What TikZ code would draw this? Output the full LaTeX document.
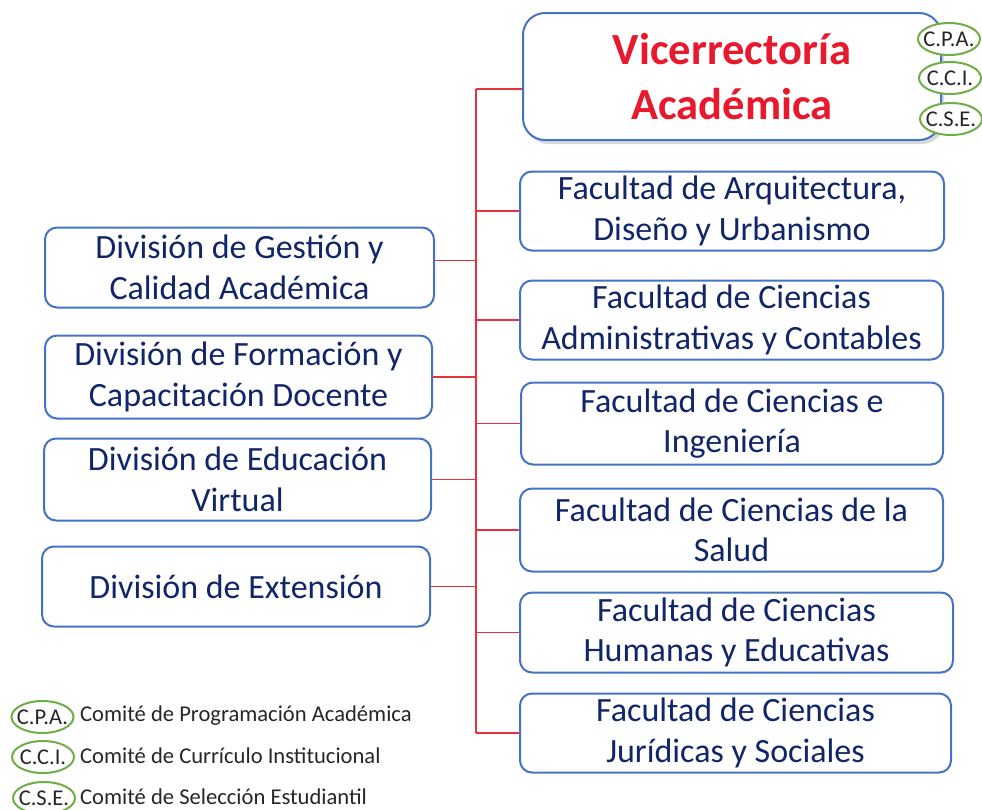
\documentclass[tikz,border=0pt]{standalone}
\usepackage{fontspec}
\setmainfont{Carlito}
\usetikzlibrary{shapes.geometric,shadows}
\definecolor{boxblue}{HTML}{4472C4}
\definecolor{navy}{HTML}{102668}
\definecolor{linered}{HTML}{E8303F}
\definecolor{titlered}{HTML}{E8192C}
\definecolor{cgreen}{HTML}{70AD47}
\definecolor{legtext}{HTML}{262626}
\begin{document}
\begin{tikzpicture}[x=1pt,y=-1pt,
  box/.style={draw=boxblue, line width=2pt, rounded corners=12pt, align=center,
    text=navy, font=\fontsize{34}{40.5}\selectfont, inner sep=0pt, fill=white,
    yshift=-1.5pt},
  titlebox/.style={draw=boxblue, line width=2pt, rounded corners=22pt, align=center,
    text=titlered, font=\fontsize{44.5}{55}\selectfont\bfseries, inner sep=0pt, fill=white,
    minimum width=418pt, minimum height=127pt,
    drop shadow={shadow xshift=3pt, shadow yshift=-4pt, opacity=0.25, fill=black!60}},
  cmt/.style={ellipse, draw=cgreen, line width=2pt, fill=white, minimum width=62pt,
    minimum height=32pt, inner sep=0pt, text=legtext, font=\fontsize{22.5}{26}\selectfont},
  legend/.style={anchor=west, inner sep=0pt, text=legtext, font=\fontsize{22.6}{26}\selectfont},
  conn/.style={draw=linered, line width=1.3pt}
]
\useasboundingbox (0,0) rectangle (982,809);

% title box
\node[titlebox] (va) at (732,76.5) {Vicerrector\'ia\\Acad\'emica};
\node[cmt] (cpa) at (949,39) {\makebox[0pt]{C.P.A.}};
\node[cmt] (cci) at (950,78) {\makebox[0pt]{C.C.I.}};
\node[cmt] (cse) at (951,119) {\makebox[0pt]{C.S.E.}};

% right boxes
\node[box, minimum width=424pt, minimum height=79pt] (fa) at (732,209.5) {Facultad de Arquitectura,\\Diseño y Urbanismo};
\node[box, minimum width=423pt, minimum height=79pt] (fca) at (731.5,318.5) {Facultad de Ciencias\\Administrativas y Contables};
\node[box, minimum width=422pt, minimum height=82pt] (fci) at (732,422) {Facultad de Ciencias e\\Ingeniería};
\node[box, minimum width=423pt, minimum height=83pt] (fcs) at (731.5,528.5) {Facultad de Ciencias de la\\Salud};
\node[box, minimum width=433pt, minimum height=80pt] (fch) at (736.5,631) {Facultad de Ciencias\\Humanas y Educativas};
\node[box, minimum width=431pt, minimum height=79pt] (fcj) at (735.5,731.5) {Facultad de Ciencias\\Jurídicas y Sociales};

% left boxes
\node[box, minimum width=389pt, minimum height=80pt] (dg) at (239.5,266) {División de Gestión y\\Calidad Académica};
\node[box, minimum width=387pt, minimum height=83pt] (df) at (238.5,375.5) {División de Formación y\\Capacitación Docente};
\node[box, minimum width=387pt, minimum height=82pt] (de) at (237.5,478) {División de Educación\\Virtual};
\node[box, minimum width=388pt, minimum height=80pt] (dx) at (236,585) {División de Extensión};

% connectors
\coordinate (ttop) at (476,89);
\coordinate (tbot) at (476,733);
\draw[conn] (ttop) -- (tbot);
\draw[conn] (va.west |- ttop) -- (ttop);
\foreach \n in {fa,fca,fci,fcs,fch}
  \draw[conn] (\n.center -| ttop) -- (\n.west);
\draw[conn] (tbot) -- (tbot -| fcj.west);
\draw[conn] ([yshift=7pt]dg.east -| ttop) -- ([yshift=7pt]dg.east);
\foreach \n in {df,de,dx}
  \draw[conn] (\n.center -| ttop) -- (\n.east);

% legend
\node[cmt] (lcpa) at (42.5,717) {\makebox[0pt]{C.P.A.}};
\node[cmt] (lcci) at (43,757) {\makebox[0pt]{C.C.I.}};
\node[cmt] (lcse) at (44,798) {\makebox[0pt]{C.S.E.}};
\node[legend] (tcpa) at (80,716) {Comité de Programación Académica};
\node[legend] (tcci) at (80,756) {Comité de Currículo Institucional};
\node[legend] (tcse) at (80,797) {Comité de Selección Estudiantil};
\end{tikzpicture}
\end{document}
